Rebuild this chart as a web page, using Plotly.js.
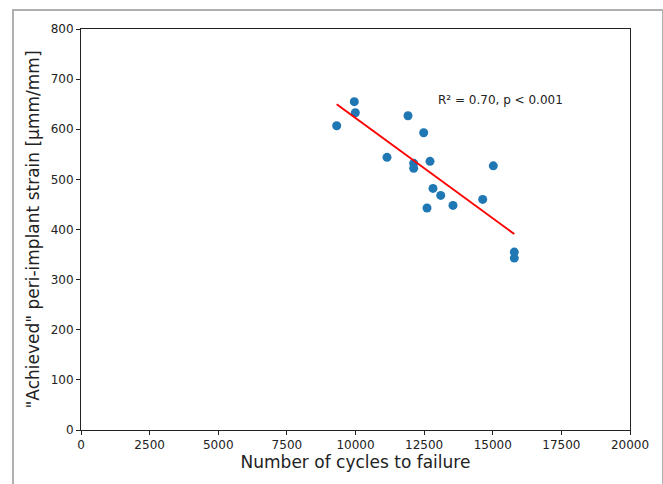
<!DOCTYPE html>
<html>
<head>
<meta charset="utf-8">
<script src="https://cdn.plot.ly/plotly-3.0.1.min.js"></script>
<style>
  html, body { margin: 0; padding: 0; background: #fff; }
  #wrap { position: relative; width: 663px; height: 484px; overflow: hidden; }
  #chart { width: 663px; height: 484px; }
  #frame { position: absolute; left: 12px; top: 9px; width: 648px; height: 500px;
           border-left: 2px solid #b0b0b0; border-top: 2px solid #b0b0b0; border-right: 2px solid #b0b0b0;
           pointer-events: none; }
</style>
</head>
<body>
<div id="wrap">
  <div id="chart"></div>
  <div id="frame"></div>
</div>
<script>
// Scatter data: number of cycles to failure vs achieved strain
const cycles = [9315, 9956, 9993, 11148, 11913, 12120, 12120, 12484, 12714, 12605, 12823, 13104, 13552, 15020, 14634, 15785, 15785];
const strain = [607, 655, 633, 544, 627, 532, 522, 593, 536, 443, 482, 468, 448, 527, 460, 355, 343];

// Regression line endpoints
const fitX = [9315, 15785];
const fitY = [650, 391];

const annotationText = "R² = 0.70, p < 0.001";
const xTicks = [0, 2500, 5000, 7500, 10000, 12500, 15000, 17500, 20000];
const yTicks = [0, 100, 200, 300, 400, 500, 600, 700, 800];

const font = "DejaVu Sans, sans-serif";

const traces = [
  {
    x: cycles, y: strain, type: "scatter", mode: "markers",
    marker: { color: "#1f77b4", size: 9 },
    hoverinfo: "skip", showlegend: false
  },
  {
    x: fitX, y: fitY, type: "scatter", mode: "lines",
    line: { color: "#ff0000", width: 2 },
    hoverinfo: "skip", showlegend: false
  }
];

const layout = {
  width: 663, height: 484,
  margin: { l: 81, r: 33, t: 29, b: 54 },
  paper_bgcolor: "#ffffff", plot_bgcolor: "#ffffff",
  font: { family: font, color: "#222222", size: 12 },
  showlegend: false,
  xaxis: {
    range: [0, 20000], tickvals: xTicks, ticktext: xTicks.map(String),
    showgrid: false, zeroline: false,
    showline: true, linecolor: "#222222", linewidth: 1, mirror: true,
    ticks: "outside", ticklen: 4, tickcolor: "#222222",
    tickfont: { family: font, size: 12, color: "#222222" },
    title: { text: "Number of cycles to failure", font: { family: font, size: 17, color: "#222222" }, standoff: 4 }
  },
  yaxis: {
    range: [0, 800], tickvals: yTicks, ticktext: yTicks.map(String),
    showgrid: false, zeroline: false,
    showline: true, linecolor: "#222222", linewidth: 1, mirror: true,
    ticks: "outside", ticklen: 4, tickcolor: "#222222",
    tickfont: { family: font, size: 12, color: "#222222" },
    title: { text: "\"Achieved\" peri-implant strain [µmm/mm]", font: { family: font, size: 17, color: "#222222" }, standoff: 6 }
  },
  annotations: [
    {
      x: 12950, y: 658, xref: "x", yref: "y",
      text: annotationText, showarrow: false,
      xanchor: "left", yanchor: "middle",
      font: { family: font, size: 12, color: "#222222" }
    }
  ]
};

Plotly.newPlot("chart", traces, layout, { staticPlot: true, displayModeBar: false });
</script>
</body>
</html>
